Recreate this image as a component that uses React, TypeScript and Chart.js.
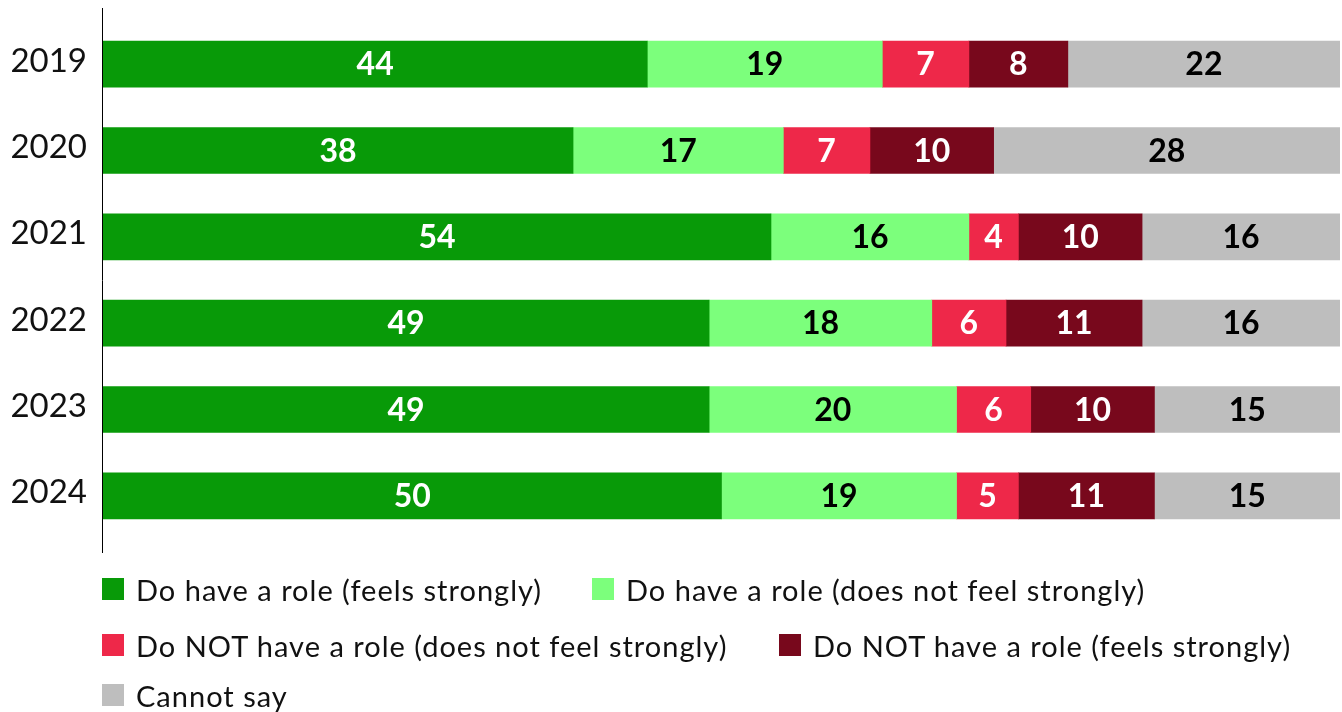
import React, { useEffect, useRef } from "react";
import { Chart, registerables } from "chart.js";

Chart.register(...registerables);

const years = ["2019", "2020", "2021", "2022", "2023", "2024"];
const seriesNames = [
  "Do have a role (feels strongly)",
  "Do have a role (does not feel strongly)",
  "Do NOT have a role (does not feel strongly)",
  "Do NOT have a role (feels strongly)",
  "Cannot say",
];
const haveStrong = [44, 38, 54, 49, 49, 50];
const haveWeak = [19, 17, 16, 18, 20, 19];
const notWeak = [7, 7, 4, 6, 6, 5];
const notStrong = [8, 10, 10, 11, 10, 11];
const cannotSay = [22, 28, 16, 16, 15, 15];

const colors = ["#089a08", "#7cff7c", "#ee2849", "#78081c", "#bebebe"];
const labelColors = ["#ffffff", "#000000", "#ffffff", "#ffffff", "#000000"];
const FONT = "Lato, 'Open Sans', sans-serif";

const valueLabels = {
  id: "valueLabels",
  afterDatasetsDraw(chart: any) {
    const ctx = chart.ctx;
    ctx.save();
    ctx.font = `bold 32px ${FONT}`;
    ctx.textAlign = "center";
    ctx.textBaseline = "middle";
    chart.data.datasets.forEach((ds: any, i: number) => {
      const meta = chart.getDatasetMeta(i);
      meta.data.forEach((el: any, j: number) => {
        const cx = (el.x + el.base) / 2;
        ctx.fillStyle = labelColors[i];
        ctx.fillText(String(ds.data[j]), cx, el.y + 1);
      });
    });
    ctx.restore();
  },
};

const axisLine = {
  id: "axisLine",
  afterDraw(chart: any) {
    const ctx = chart.ctx;
    const x = chart.chartArea.left - 0.5;
    ctx.save();
    ctx.strokeStyle = "#000";
    ctx.lineWidth = 1;
    ctx.beginPath();
    ctx.moveTo(x, 8);
    ctx.lineTo(x, 553);
    ctx.stroke();
    ctx.restore();
  },
};

export default function App() {
  const ref = useRef<HTMLCanvasElement>(null);
  useEffect(() => {
    document.body.style.margin = "0";
    const values = [haveStrong, haveWeak, notWeak, notStrong, cannotSay];
    const chart = new Chart(ref.current!, {
      type: "bar",
      data: {
        labels: years,
        datasets: values.map((d, i) => ({
          label: seriesNames[i],
          data: d,
          backgroundColor: colors[i],
          borderWidth: 0,
          barThickness: 46,
        })),
      },
      options: {
        indexAxis: "y",
        animation: false,
        responsive: false,
        maintainAspectRatio: false,
        layout: { padding: { left: 0, right: 2, top: 21, bottom: 173 } },
        plugins: { legend: { display: false }, tooltip: { enabled: false } },
        scales: {
          x: { stacked: true, display: false, min: 0, max: 100 },
          y: {
            stacked: true,
            grid: { display: false, drawTicks: false },
            border: { display: false },
            ticks: {
              color: "#111",
              padding: 16,
              labelOffset: -3,
              font: { family: FONT, size: 33 },
            },
            afterFit(scale: any) {
              scale.width = 103;
              scale.paddingTop = 0;
              scale.paddingBottom = 0;
            },
          },
        },
      },
      plugins: [valueLabels, axisLine],
    });
    return () => chart.destroy();
  }, []);

  const legendRows = [
    [
      { i: 0, x: 102 },
      { i: 1, x: 592 },
    ],
    [
      { i: 2, x: 102 },
      { i: 3, x: 779 },
    ],
    [{ i: 4, x: 102 }],
  ];
  const rowY = [589, 645, 695];

  return (
    <div style={{ position: "absolute", left: 0, top: 0, width: 1342, height: 712 }}>
      <canvas ref={ref} width={1342} height={712} style={{ display: "block" }} />
      {legendRows.map((row, r) =>
        row.map((it) => (
          <div
            key={it.i}
            style={{
              position: "absolute",
              left: it.x,
              top: rowY[r] - 20,
              height: 40,
              display: "flex",
              alignItems: "center",
              whiteSpace: "nowrap",
              fontFamily: FONT,
              fontSize: 29,
              letterSpacing: 1,
              color: "#111",
            }}
          >
            <span
              style={{
                display: "inline-block",
                width: 22,
                height: 22,
                background: colors[it.i],
                marginRight: 12,
              }}
            />
            <span>{seriesNames[it.i]}</span>
          </div>
        ))
      )}
    </div>
  );
}
